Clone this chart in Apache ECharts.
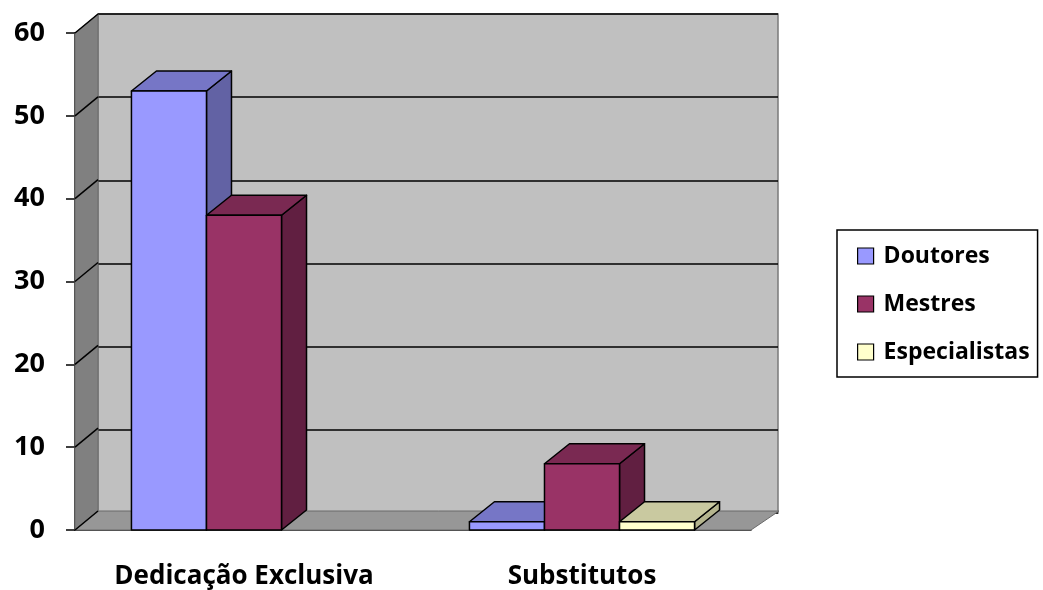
<!DOCTYPE html>
<html>
<head>
<meta charset="utf-8">
<title>Docentes</title>
<script src="https://cdn.jsdelivr.net/npm/echarts@6/dist/echarts.min.js"></script>
<style>
  html, body { margin: 0; padding: 0; background: #fff; }
  #chart { width: 1043px; height: 590px; }
</style>
</head>
<body>
<div id="chart"></div>
<script>
// dados
const categories = ['Dedicação Exclusiva', 'Substitutos'];
const doutores = [53, 1];
const mestres = [38, 8];
const especialistas = [null, 1];
const yTicks = [0, 10, 20, 30, 40, 50, 60];

// profundidade do efeito 3D
const DX = 25;
const DY = -20;
const WALL_DX_L = 23;
const WALL_DX_R = 28;
const WALL_DY = -19;
const BAR_RATIO = 0.222;
const FONT = '"Open Sans", "DejaVu Sans", sans-serif';

function toData (arr) {
  return arr.map(function (v, i) { return [i, v]; });
}

function barRenderer (k, front, top, side) {
  return function (params, api) {
    const v = api.value(1);
    if (v == null || isNaN(v)) return;
    const base = api.coord([api.value(0), 0]);
    const tp = api.coord([api.value(0), v]);
    const w = api.size([1, 0])[0] * BAR_RATIO;
    const x0 = base[0] - 1.5 * w + k * w;
    const yb = base[1];
    const yt = tp[1];
    const edge = { stroke: '#000', lineWidth: 1.5, lineJoin: 'round' };
    return {
      type: 'group',
      children: [
        {
          type: 'polygon',
          shape: { points: [[x0 + w, yt], [x0 + w + DX, yt + DY], [x0 + w + DX, yb + DY], [x0 + w, yb]] },
          style: Object.assign({ fill: side }, edge)
        },
        {
          type: 'polygon',
          shape: { points: [[x0, yt], [x0 + DX, yt + DY], [x0 + w + DX, yt + DY], [x0 + w, yt]] },
          style: Object.assign({ fill: top }, edge)
        },
        {
          type: 'rect',
          shape: { x: x0, y: yt, width: w, height: yb - yt },
          style: Object.assign({ fill: front }, edge)
        }
      ]
    };
  };
}

// parede lateral, chão e linhas de grade diagonais
function wallsRenderer (params, api) {
  const cs = params.coordSys;
  const x = cs.x;
  const y = cs.y;
  const w = cs.width;
  const h = cs.height;
  const children = [
    {
      type: 'polygon',
      shape: { points: [[x, y], [x + WALL_DX_L, y + WALL_DY], [x + WALL_DX_L, y + h + WALL_DY], [x, y + h]] },
      style: { fill: '#808080', stroke: '#6a6a6a', lineWidth: 1 }
    },
    {
      type: 'polygon',
      shape: { points: [[x, y + h], [x + WALL_DX_L, y + h + WALL_DY], [x + w + WALL_DX_R, y + h + WALL_DY], [x + w, y + h]] },
      style: { fill: '#979797', stroke: '#6a6a6a', lineWidth: 1 }
    }
  ];
  yTicks.forEach(function (t) {
    const yy = api.coord([0, t])[1];
    children.push({
      type: 'line',
      shape: { x1: x, y1: yy, x2: x + WALL_DX_L, y2: yy + WALL_DY },
      style: { stroke: '#000', lineWidth: 1.5 }
    });
  });
  return { type: 'group', children: children };
}

const chart = echarts.init(document.getElementById('chart'));
chart.setOption({
  animation: false,
  backgroundColor: '#fff',
  textStyle: { fontFamily: FONT },
  grid: [
    { left: 75, right: 292, top: 33, bottom: 58 },
    {
      left: 98, right: 265, top: 14, bottom: 77,
      show: true, backgroundColor: '#c0c0c0', borderColor: '#7a7a7a', borderWidth: 1.5
    }
  ],
  legend: {
    orient: 'vertical',
    left: 837,
    top: 230,
    padding: [12, 8, 11, 20],
    itemGap: 20,
    itemWidth: 16,
    itemHeight: 16,
    icon: 'rect',
    borderColor: '#000',
    borderWidth: 1.5,
    itemStyle: { borderColor: '#000', borderWidth: 1.2 },
    textStyle: { fontFamily: FONT, fontWeight: 'bold', fontSize: 23, lineHeight: 28, color: '#000', padding: [0, 0, 0, 5] },
    data: ['Doutores', 'Mestres', 'Especialistas']
  },
  xAxis: [
    {
      type: 'category',
      gridIndex: 0,
      data: categories,
      axisLine: { lineStyle: { color: '#000', width: 1.5 } },
      axisTick: { length: 10, lineStyle: { color: '#000', width: 1.5 } },
      axisLabel: { margin: 34, color: '#000', fontFamily: FONT, fontWeight: 'bold', fontSize: 26 },
      splitLine: { show: false }
    },
    { type: 'value', gridIndex: 1, show: false, min: 0, max: 1 }
  ],
  yAxis: [
    {
      type: 'value',
      gridIndex: 0,
      min: yTicks[0],
      max: yTicks[yTicks.length - 1],
      interval: 10,
      axisLine: { show: true, lineStyle: { color: '#000', width: 1.5 } },
      axisTick: { show: true, length: 9, lineStyle: { color: '#000', width: 1.5 } },
      axisLabel: { margin: 30, padding: [5, 0, 0, 0], color: '#000', fontFamily: FONT, fontWeight: 'bold', fontSize: 27 },
      splitLine: { show: false }
    },
    {
      type: 'value',
      gridIndex: 1,
      min: yTicks[0],
      max: yTicks[yTicks.length - 1],
      interval: 10,
      axisLine: { show: false },
      axisTick: { show: false },
      axisLabel: { show: false },
      splitLine: { show: true, lineStyle: { color: '#000', width: 1.5 } }
    }
  ],
  series: [
    {
      type: 'custom',
      name: 'walls',
      xAxisIndex: 0,
      yAxisIndex: 0,
      z: 1,
      silent: true,
      renderItem: wallsRenderer,
      data: [[0, 0]]
    },
    {
      type: 'custom',
      name: 'Doutores',
      z: 3,
      itemStyle: { color: '#9999ff' },
      renderItem: barRenderer(0, '#9999ff', '#7676c6', '#6262a4'),
      data: toData(doutores)
    },
    {
      type: 'custom',
      name: 'Mestres',
      z: 3,
      itemStyle: { color: '#993366' },
      renderItem: barRenderer(1, '#993366', '#7a2952', '#611f41'),
      data: toData(mestres)
    },
    {
      type: 'custom',
      name: 'Especialistas',
      z: 3,
      itemStyle: { color: '#ffffcc' },
      renderItem: barRenderer(2, '#ffffcc', '#c9c9a0', '#b5b58e'),
      data: toData(especialistas)
    }
  ]
});
</script>
</body>
</html>
